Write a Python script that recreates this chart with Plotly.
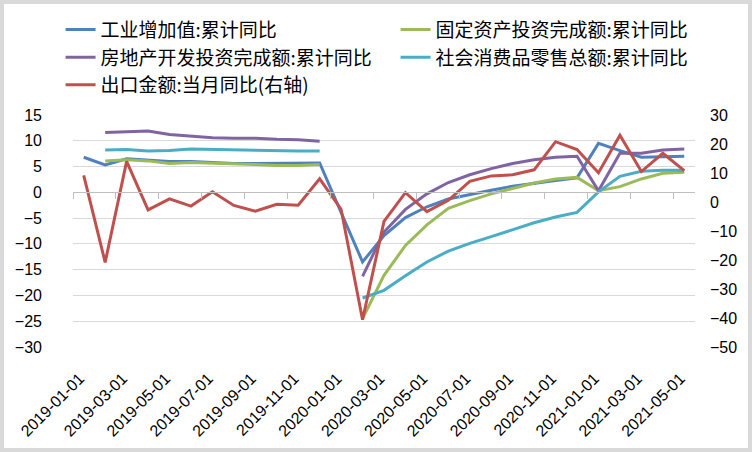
import plotly.graph_objects as go

# monthly dates, 2019-01 to 2021-05
months = [f"{y}-{m:02d}-01" for y in (2019, 2020, 2021) for m in range(1, 13)][:29]

# cumulative YoY (left axis, %)
industrial = [6.8, 5.3, 6.5, 6.2, 6.0, 6.0, 5.8, 5.6, 5.6, 5.6, 5.6, 5.7,
              None, -13.5, -8.4, -4.9, -2.8, -1.3, -0.4, 0.4, 1.2, 1.8, 2.3, 2.8,
              9.5, 8.1, 6.8, 6.9, 7.0]
fixed_inv = [None, 6.1, 6.3, 6.1, 5.6, 5.8, 5.7, 5.5, 5.4, 5.2, 5.2, 5.4,
             None, -24.5, -16.1, -10.3, -6.3, -3.1, -1.6, -0.3, 0.8, 1.8, 2.6, 2.9,
             0.3, 1.1, 2.6, 3.7, 3.9]
real_estate = [None, 11.6, 11.8, 11.9, 11.2, 10.9, 10.6, 10.5, 10.5, 10.3, 10.2, 9.9,
               None, -16.3, -7.7, -3.3, -0.3, 1.9, 3.4, 4.6, 5.6, 6.3, 6.8, 7.0,
               0.3, 7.6, 7.6, 8.2, 8.4]
retail = [None, 8.2, 8.3, 8.0, 8.1, 8.4, 8.3, 8.2, 8.2, 8.1, 8.0, 8.0,
          None, -20.5, -19.0, -16.2, -13.5, -11.4, -9.9, -8.6, -7.2, -5.9, -4.8, -3.9,
          0.1, 3.1, 4.1, 4.3, 4.3]
# monthly YoY (right axis, %)
exports = [9.2, -20.8, 14.0, -2.7, 1.1, -1.4, 3.5, -1.2, -3.2, -0.8, -1.1, 8.0,
           -2.5, -40.6, -6.7, 3.2, -3.3, 0.6, 7.1, 9.0, 9.4, 11.1, 20.8, 18.1,
           10.1, 23.0, 10.5, 16.8, 10.8]

series = [
    ("工业增加值:累计同比", industrial, "#4F81BD", "y", True),
    ("固定资产投资完成额:累计同比", fixed_inv, "#9BBB59", "y", False),
    ("房地产开发投资完成额:累计同比", real_estate, "#8064A2", "y", False),
    ("社会消费品零售总额:累计同比", retail, "#4BACC6", "y", False),
    ("出口金额:当月同比(右轴)", exports, "#C0504D", "y2", False),
]

fig = go.Figure()
for name, vals, color, yax, gaps in series:
    fig.add_trace(go.Scatter(
        x=months, y=vals, name=name, mode="lines", yaxis=yax,
        connectgaps=gaps, line=dict(color=color, width=3),
    ))

# empty trace so the zero-line axis with tick marks gets drawn
fig.add_trace(go.Scatter(x=[], y=[], xaxis="x3", yaxis="y", showlegend=False))

tickfont = dict(family="Liberation Sans, Arial, sans-serif", size=16, color="#000000")

fig.update_layout(
    width=752, height=452,
    margin=dict(l=73, r=57, t=115, b=105, autoexpand=False),
    paper_bgcolor="white", plot_bgcolor="white",
    showlegend=True,
    legend=dict(
        orientation="h", x=-0.02, xanchor="left", y=1.45, yanchor="top",
        entrywidth=290, entrywidthmode="pixels",
        font=dict(family="Noto Sans CJK SC", size=19, color="#000000"),
        bgcolor="rgba(0,0,0,0)", traceorder="normal",
    ),
    xaxis=dict(
        type="category", range=[-0.5, 28.5],
        tickmode="array", tickvals=months[::2], ticktext=months[::2],
        tickangle=-45, showgrid=False, showline=False, zeroline=False,
        ticks="", ticklabelstandoff=18, ticklabelshift=-4, tickfont=tickfont,
    ),
    xaxis3=dict(
        overlaying="x", anchor="free", position=30 / 45,
        range=[-0.5, 28.5], tickmode="array",
        tickvals=[i - 0.5 for i in range(0, 30, 2)],
        showticklabels=False, showgrid=False, zeroline=False,
        showline=True, linecolor="#BFBFBF", linewidth=1,
        ticks="outside", ticklen=6, tickcolor="#BFBFBF",
    ),
    yaxis=dict(
        range=[-30, 15], dtick=5, tick0=0,
        showgrid=True, gridcolor="#D9D9D9", gridwidth=1,
        zeroline=False, showline=False, ticks="",
        ticklabelstandoff=30, tickfont=tickfont,
    ),
    yaxis2=dict(
        overlaying="y", side="right", range=[-50, 30], dtick=10, tick0=0,
        showgrid=False, zeroline=False, showline=False, ticks="",
        ticklabelstandoff=14, tickfont=tickfont,
    ),
    shapes=[dict(
        type="rect", xref="paper", yref="paper",
        x0=(2 - 73) / 622, x1=(750 - 73) / 622,
        y0=(347 - 450) / 232, y1=(347 - 2) / 232,
        line=dict(color="#D9D9D9", width=4), layer="above",
    )],
)

# drop the browser's default page margin so the figure sits at the window origin
fig.write_html("out.html", config={"displayModeBar": False},
               post_script="document.body.style.margin='0';")
